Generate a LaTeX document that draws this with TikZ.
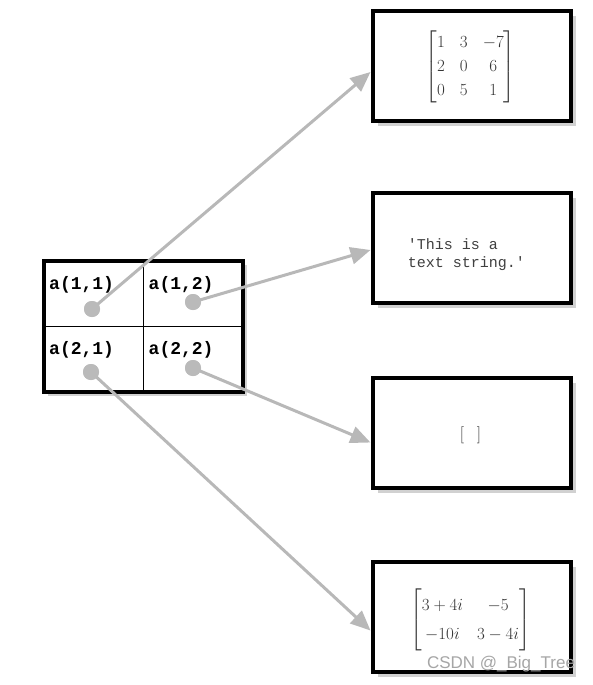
\documentclass[tikz,border=0pt]{standalone}
\usepackage{amsmath}
\usepackage{fix-cm}
\usepackage{fontspec}
\setmonofont{Liberation Mono}
\newfontfamily\markfont{Liberation Sans}
\usetikzlibrary{arrows.meta,positioning,shadows}

\tikzset{
  rbox/.style={draw=black, line width=4pt, fill=white, minimum width=198pt, minimum height=110pt, inner sep=0pt,
    drop shadow={shadow xshift=5pt, shadow yshift=-5pt, fill=black!18, opacity=1}},
  gridframe/.style={draw=black, line width=3.5pt, fill=white, minimum width=199pt, minimum height=131pt, inner sep=0pt, outer sep=0pt,
    drop shadow={shadow xshift=4pt, shadow yshift=-4pt, fill=black!18, opacity=1}},
  cell/.style={draw=black, line width=0.8pt, minimum width=99.5pt, minimum height=65.5pt, inner sep=0pt, outer sep=0pt},
  celltxt/.style={anchor=north west, inner sep=1pt, font=\ttfamily\bfseries\fontsize{18}{18}\selectfont},
  dot/.style={circle, fill=black!27, minimum size=16pt, inner sep=0pt},
  link/.style={draw=black!28, line width=3pt, -{Triangle[length=20pt,width=17pt]}},
  mtx/.style={text=black!80, font=\fontsize{17}{20}\selectfont},
  wmark/.style={text=black!35, font=\markfont\fontsize{17}{17}\selectfont}
}

\begin{document}
\begin{tikzpicture}[x=1pt, y=-1pt]
  \useasboundingbox (0,0) rectangle (592,685);

  % Zellen-Array a(i,j)
  \node[gridframe] (grid) at (143.5,326.5) {};
  \node[cell, anchor=north west] (c11) at (grid.north west) {};
  \node[cell, right=0pt of c11] (c12) {};
  \node[cell, below=0pt of c11] (c21) {};
  \node[cell, right=0pt of c21] (c22) {};
  \draw[line width=3.5pt] (grid.north west) rectangle (grid.south east);
  \foreach \i/\j in {1/1,1/2,2/1,2/2} {
    \node[celltxt] (l\i\j) at ([xshift=4pt,yshift=-14pt]c\i\j.north west) {a(\i,\j)};
  }

  % Inhalte der Zellen
  \node[rbox] (b1) at (471.5,66) {};
  \node[rbox] (b2) at (471.5,248) {};
  \node[rbox] (b3) at (471.5,432.5) {};
  \node[rbox] (b4) at (471.5,616.5) {};

  \node[mtx] (m1) at ([xshift=-1pt,yshift=-1pt]b1.center)
    {\setlength{\arraycolsep}{7.5pt}\renewcommand{\arraystretch}{1.2}$\begin{bmatrix} 1 & 3 & -7\\ 2 & 0 & 6\\ 0 & 5 & 1 \end{bmatrix}$};
  \node[align=left, text=black!75, font=\ttfamily\fontsize{15}{18}\selectfont] (m2)
    at ([xshift=-5pt,yshift=-7pt]b2.center) {'This is a\\text string.'};
  \node[mtx] (m3) at ([xshift=-1pt,yshift=-3pt]b3.center) {[\hspace{13pt}]};
  \node[mtx] (m4) at ([xshift=-1pt,yshift=-3pt]b4.center)
    {\setlength{\arraycolsep}{7pt}\renewcommand{\arraystretch}{1.45}$\begin{bmatrix} 3+4i & -5\\ -10i & 3-4i \end{bmatrix}$};

  % Zeiger
  \node[dot] (d11) at (92,309) {};
  \node[dot] (d12) at (193,302) {};
  \node[dot] (d21) at (91,372) {};
  \node[dot] (d22) at (193,368) {};
  \draw[link] (d11.center) -- ([yshift=-6pt]b1.west);
  \draw[link] (d12.center) -- ([yshift=-2pt]b2.west);
  \draw[link] (d22.center) -- ([yshift=-10pt]b3.west);
  \draw[link] (d21.center) -- ([yshift=-14pt]b4.west);
  \foreach \d in {d11,d12,d21,d22} \fill[black!27] (\d) circle (8pt);

  \node[wmark] (wm) at (501,664) {CSDN @\_Big\_Tree};
\end{tikzpicture}
\end{document}
